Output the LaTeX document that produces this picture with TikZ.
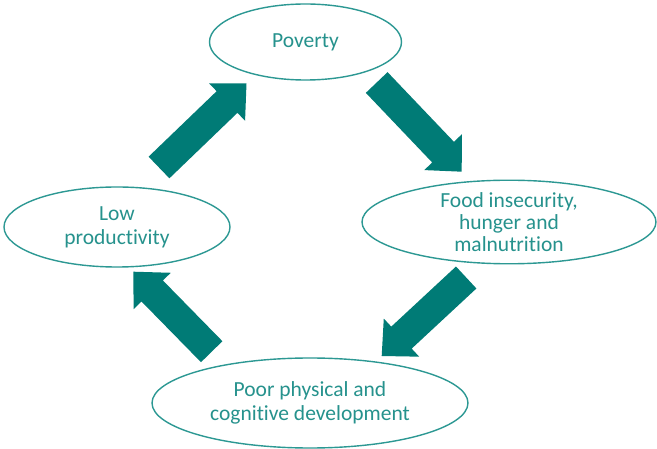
\documentclass[tikz,border=0pt]{standalone}
\usepackage{fontspec}
\setmainfont{Carlito}[Ligatures=NoCommon]
\usetikzlibrary{shapes.geometric,calc}
\definecolor{tealdark}{RGB}{0,123,118}
\definecolor{tealtext}{RGB}{38,146,141}
\definecolor{tealline}{RGB}{44,152,147}
\tikzset{
  stage/.style={ellipse, draw=tealline, line width=1.4pt, inner sep=0pt,
    text=tealtext, align=center, font=\fontsize{21.5}{24}\selectfont},
  blockfill/.style={fill=tealdark}
}
% block arrow: #1 name, #2 tail centre, #3 tip
\newcommand\blockarrow[3]{%
  \coordinate (#1b) at ($(#3)!27pt!(#2)$);
  \fill[blockfill] ($(#2)!15pt!90:(#3)$) -- ($(#1b)!15pt!90:(#3)$)
    -- ($(#1b)!26pt!90:(#3)$) -- (#3) -- ($(#1b)!26pt!-90:(#3)$)
    -- ($(#1b)!15pt!-90:(#3)$) -- ($(#2)!15pt!-90:(#3)$) -- cycle;
}
\begin{document}
\begin{tikzpicture}[x=1pt,y=-1pt]
  \fill[white] (0,0) rectangle (657,449);
  \useasboundingbox (0,0) rectangle (657,449);

  \node[stage, minimum width=192pt, minimum height=76pt] (pov) at (305.5,42) {Poverty};
  \node[stage, minimum width=294pt, minimum height=82pt,
        font=\fontsize{21.5}{22}\selectfont] (food) at (509,222)
        {Food insecurity,\\hunger and\\malnutrition};
  \node[stage, minimum width=316pt, minimum height=90pt] (poor) at (310,403)
        {Poor physical and\\cognitive development};
  \node[stage, minimum width=226pt, minimum height=80pt] (low) at (117,227)
        {Low\\productivity};

  \coordinate (a1t) at (159,167.5);   \coordinate (a1h) at (246.5,83.3);
  \coordinate (a2t) at (376.7,82.5);  \coordinate (a2h) at (461.7,171.7);
  \coordinate (a3t) at (466.2,277.5); \coordinate (a3h) at (381.7,356);
  \coordinate (a4t) at (211.7,351.7); \coordinate (a4h) at (133.3,271.7);

  \blockarrow{a1}{a1t}{a1h}
  \blockarrow{a2}{a2t}{a2h}
  \blockarrow{a3}{a3t}{a3h}
  \blockarrow{a4}{a4t}{a4h}
\end{tikzpicture}
\end{document}
